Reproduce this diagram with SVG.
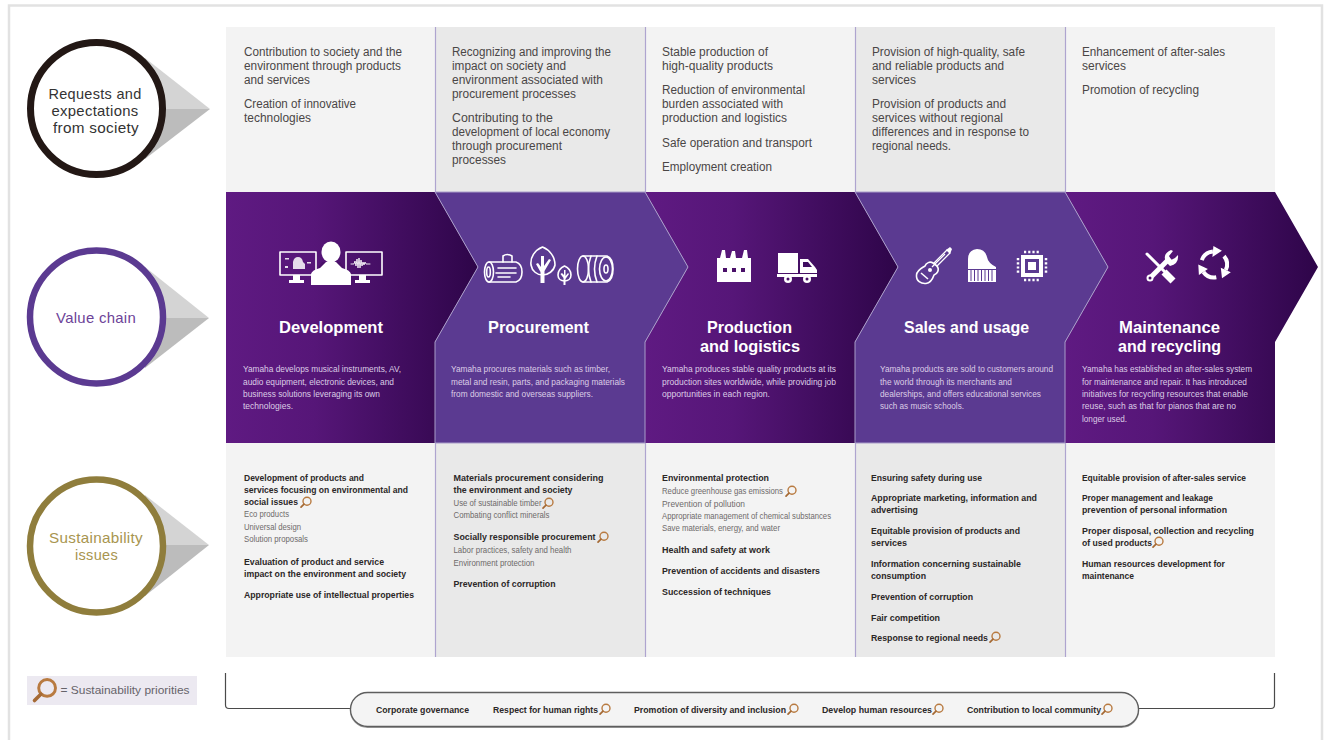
<svg xmlns="http://www.w3.org/2000/svg" width="1325" height="740" viewBox="0 0 1325 740">
<style>
text{font-family:"Liberation Sans",Arial,sans-serif}
.t{font-size:12.5px;fill:#4a4646}
.d{font-size:8.8px;fill:#dccde6}
.h{font-size:16.5px;font-weight:bold;fill:#fff;text-anchor:middle}
.b{font-size:9.6px;font-weight:bold;fill:#2b2727}
.s{font-size:8.6px;fill:#6e6a6a}
.f{font-size:9.2px;font-weight:bold;fill:#2b2727}
.c{font-size:15px;text-anchor:middle;letter-spacing:.3px}
.sep{stroke:#aea4cf;stroke-width:1.2;fill:none}
.v{fill:#5b3a91;stroke:#a99cc9;stroke-width:1}
.l{fill:none;stroke:#fff;stroke-width:1.6;stroke-linecap:round;stroke-linejoin:round}
.w{fill:#fff}
.wu{fill:#d4d4d4}.wd{fill:#bcbcbc}
</style>
<defs>
<linearGradient id="pg"><stop offset="0" stop-color="#5f1a82"/><stop offset=".35" stop-color="#561678"/><stop offset="1" stop-color="#2e0549"/></linearGradient>
<g id="lens"><circle cx="1" cy="-1" r="4" fill="none" stroke="#b87a40" stroke-width="1.400"/><path d="M-2 2L-5 5" stroke="#a56a35" stroke-width="1.700" stroke-linecap="round"/></g>
</defs>
<rect width="1325" height="740" fill="#fff"/>
<rect x="9" y="5.500" width="1313" height="740" fill="none" stroke="#e2e2e2" stroke-width="2.500"/>

<g id="circle-requests">
<path class="wu" d="M145 58L210 109H130Z"/><path class="wd" d="M145 159L210 109H130Z"/>
<circle cx="96.500" cy="108.500" r="66" fill="#fff" stroke="#231815" stroke-width="7"/>
<g class="c" fill="#333"><text x="95" y="98.800" textLength="93" lengthAdjust="spacingAndGlyphs">Requests and</text><text x="95" y="115.800" textLength="87" lengthAdjust="spacingAndGlyphs">expectations</text><text x="96" y="132.800" textLength="86" lengthAdjust="spacingAndGlyphs">from society</text></g>
</g>
<g id="circle-value">
<path class="wu" d="M145 267L209 318H130Z"/><path class="wd" d="M145 368L209 318H130Z"/>
<circle cx="96.500" cy="317" r="66.500" fill="#fff" stroke="#5b3a91" stroke-width="6.500"/>
<text class="c" fill="#6d4398" x="96" y="323" textLength="80" lengthAdjust="spacingAndGlyphs">Value chain</text>
</g>
<g id="circle-sustainability">
<path class="wu" d="M145 495L209 545H130Z"/><path class="wd" d="M145 596L209 545H130Z"/>
<circle cx="96.500" cy="546" r="66.500" fill="#fff" stroke="#8f7d3c" stroke-width="6.500"/>
<g class="c" fill="#a8954f"><text x="96" y="543" textLength="94" lengthAdjust="spacingAndGlyphs">Sustainability</text><text x="96.500" y="560" textLength="43" lengthAdjust="spacingAndGlyphs">issues</text></g>
</g>

<g id="bands">
<rect x="226" y="27" width="209" height="165" fill="#f3f3f3"/><rect x="435" y="27" width="210" height="165" fill="#e9e9e9"/><rect x="645" y="27" width="210" height="165" fill="#f3f3f3"/><rect x="855" y="27" width="210" height="165" fill="#e9e9e9"/><rect x="1065" y="27" width="210" height="165" fill="#f3f3f3"/>
<rect x="226" y="443" width="209" height="214" fill="#f3f3f3"/><rect x="435" y="443" width="210" height="214" fill="#e9e9e9"/><rect x="645" y="443" width="210" height="214" fill="#f3f3f3"/><rect x="855" y="443" width="210" height="214" fill="#e9e9e9"/><rect x="1065" y="443" width="210" height="214" fill="#f3f3f3"/>
<path class="sep" d="M435.500 27V192M645.500 27V192M855.500 27V192M1065.500 27V192M435.500 443V657M645.500 443V657M855.500 443V657M1065.500 443V657"/>
</g>

<g id="requests-text" class="t" transform="translate(0 -.8)">
<text x="244" y="56.500" textLength="158" lengthAdjust="spacingAndGlyphs">Contribution to society and the</text>
<text x="244" y="70.500" textLength="157" lengthAdjust="spacingAndGlyphs">environment through products</text>
<text x="244" y="84.500" textLength="66" lengthAdjust="spacingAndGlyphs">and services</text>
<text x="244" y="109" textLength="112" lengthAdjust="spacingAndGlyphs">Creation of innovative</text>
<text x="244" y="123" textLength="67" lengthAdjust="spacingAndGlyphs">technologies</text>
<text x="452" y="56.500" textLength="159" lengthAdjust="spacingAndGlyphs">Recognizing and improving the</text>
<text x="452" y="70.500" textLength="114" lengthAdjust="spacingAndGlyphs">impact on society and</text>
<text x="452" y="84.500" textLength="151" lengthAdjust="spacingAndGlyphs">environment associated with</text>
<text x="452" y="98.500" textLength="124" lengthAdjust="spacingAndGlyphs">procurement processes</text>
<text x="452" y="123" textLength="101" lengthAdjust="spacingAndGlyphs">Contributing to the</text>
<text x="452" y="137" textLength="158" lengthAdjust="spacingAndGlyphs">development of local economy</text>
<text x="452" y="151" textLength="110" lengthAdjust="spacingAndGlyphs">through procurement</text>
<text x="452" y="165" textLength="54" lengthAdjust="spacingAndGlyphs">processes</text>
<text x="662" y="56.500" textLength="106" lengthAdjust="spacingAndGlyphs">Stable production of</text>
<text x="662" y="70.500" textLength="111" lengthAdjust="spacingAndGlyphs">high-quality products</text>
<text x="662" y="95" textLength="143" lengthAdjust="spacingAndGlyphs">Reduction of environmental</text>
<text x="662" y="109" textLength="121" lengthAdjust="spacingAndGlyphs">burden associated with</text>
<text x="662" y="123" textLength="125" lengthAdjust="spacingAndGlyphs">production and logistics</text>
<text x="662" y="147.500" textLength="150" lengthAdjust="spacingAndGlyphs">Safe operation and transport</text>
<text x="662" y="172" textLength="110" lengthAdjust="spacingAndGlyphs">Employment creation</text>
<text x="872" y="56.500" textLength="153" lengthAdjust="spacingAndGlyphs">Provision of high-quality, safe</text>
<text x="872" y="70.500" textLength="132" lengthAdjust="spacingAndGlyphs">and reliable products and</text>
<text x="872" y="84.500" textLength="44" lengthAdjust="spacingAndGlyphs">services</text>
<text x="872" y="109" textLength="134" lengthAdjust="spacingAndGlyphs">Provision of products and</text>
<text x="872" y="123" textLength="131" lengthAdjust="spacingAndGlyphs">services without regional</text>
<text x="872" y="137" textLength="157" lengthAdjust="spacingAndGlyphs">differences and in response to</text>
<text x="872" y="151" textLength="79" lengthAdjust="spacingAndGlyphs">regional needs.</text>
<text x="1082" y="56.500" textLength="143" lengthAdjust="spacingAndGlyphs">Enhancement of after-sales</text>
<text x="1082" y="70.500" textLength="44" lengthAdjust="spacingAndGlyphs">services</text>
<text x="1082" y="95" textLength="117" lengthAdjust="spacingAndGlyphs">Promotion of recycling</text>
</g>

<g id="node-development">
<polygon fill="url(#pg)" points="226,192 435,192 478,267 435,342 435,443 226,443"/>
<g class="l"><rect x="280" y="252" width="36" height="23"/><rect x="346" y="252" width="36" height="23"/></g>
<path class="w" d="M293 275h7v5h4v3h-15v-3h4zM359 275h7v5h4v3h-15v-3h4z"/>
<path d="M318 268L322 262H340L344 268Z" fill="#4a1069"/>
<ellipse class="w" cx="331" cy="252" rx="9.500" ry="10.500"/>
<path class="w" d="M311 285V274Q312 270 320 268L326 262H336L342 268Q350 270 351 274V285Z"/>
<path class="w" d="M293 269V262Q294 257 298 257Q302 257 303 262L305 264V269ZM285 258h4v1.500h-4zM285 266h3v2h-3zM307 262h4v1.500h-4z" opacity=".85"/>
<path class="l" style="stroke-width:.9" d="M351 264h3l1-3 1 5 1-7 1 9 1-10 1 10 1-8 1 6 1-4 1 3 1-3 1 2h4"/>
<text class="h" x="331" y="333" textLength="104" lengthAdjust="spacingAndGlyphs">Development</text>
<g class="d">
<text x="243" y="372" textLength="158" lengthAdjust="spacingAndGlyphs">Yamaha develops musical instruments, AV,</text>
<text x="243" y="384.500" textLength="151" lengthAdjust="spacingAndGlyphs">audio equipment, electronic devices, and</text>
<text x="243" y="397" textLength="137" lengthAdjust="spacingAndGlyphs">business solutions leveraging its own</text>
<text x="243" y="409" textLength="50" lengthAdjust="spacingAndGlyphs">technologies.</text>
</g>
</g>

<g id="node-production">
<polygon fill="url(#pg)" points="645,192 855,192 898,267 855,342 855,443 645,443 645,342 688,267"/>
<path class="w" d="M717 282V258H720L722 250H725L726 258H730L732 251H735L736 258H742L744 250H747L748 258H751V282Z"/>
<path d="M723 268h4v4h-4zM732 268h4v4h-4zM741 268h4v4h-4z" fill="#4a1069"/>
<path class="w" d="M778 253h20v20h-20zM800 259h8l7 8 2 3v3h-17zM777 274h40v3h-40z"/>
<circle cx="788" cy="279" r="4" fill="#fff"/><circle cx="788" cy="279" r="1.500" fill="#4a1069"/><circle cx="807" cy="279" r="4" fill="#fff"/><circle cx="807" cy="279" r="1.500" fill="#4a1069"/>
<path fill="#3f0d60" d="M803 262h5l4 5h-9z"/>
<text class="h" x="749.500" y="333" textLength="85" lengthAdjust="spacingAndGlyphs">Production</text>
<text class="h" x="750" y="352" textLength="100" lengthAdjust="spacingAndGlyphs">and logistics</text>
<g class="d">
<text x="662" y="372" textLength="174" lengthAdjust="spacingAndGlyphs">Yamaha produces stable quality products at its</text>
<text x="662" y="384.500" textLength="174" lengthAdjust="spacingAndGlyphs">production sites worldwide, while providing job</text>
<text x="662" y="397" textLength="108" lengthAdjust="spacingAndGlyphs">opportunities in each region.</text>
</g>
</g>

<g id="node-maintenance">
<polygon fill="url(#pg)" points="1065,192 1275,192 1318,267 1275,342 1275,443 1065,443 1065,342 1108,267"/>
<path d="M1147 254L1172 279" stroke="#fff" stroke-width="3" stroke-linecap="round"/>
<path d="M1164 272L1173 281" stroke="#fff" stroke-width="7"/>
<path d="M1150 278L1170 258" stroke="#fff" stroke-width="5"/>
<circle cx="1150" cy="278" r="3.500" fill="#fff"/><circle cx="1150" cy="278" r="1.500" fill="#4a1069"/>
<path class="w" d="M1166 262Q1162 254 1171 250L1173 251 1169 256 1171 260 1175 258 1178 255Q1179 264 1170 266Z"/>
<g fill="none" stroke="#fff" stroke-width="4"><path d="M1201.800 260.100A13 13 0 0 1 1212.900 251.500"/><path d="M1224 256.100A13 13 0 0 1 1225.800 270"/><path d="M1216.300 277.300A13 13 0 0 1 1203.400 272"/></g>
<path class="w" d="M1213.400 246L1212.400 257 1221.900 250.700ZM1230.800 272.300L1220.800 267.700 1222 278.200ZM1207.900 268.900L1198.900 275.100 1198.300 264.600Z"/>
<text class="h" x="1169.500" y="333" textLength="101" lengthAdjust="spacingAndGlyphs">Maintenance</text>
<text class="h" x="1169.500" y="352" textLength="103" lengthAdjust="spacingAndGlyphs">and recycling</text>
<g class="d">
<text x="1082" y="372" textLength="170" lengthAdjust="spacingAndGlyphs">Yamaha has established an after-sales system</text>
<text x="1082" y="384.500" textLength="165" lengthAdjust="spacingAndGlyphs">for maintenance and repair. It has introduced</text>
<text x="1082" y="397" textLength="166" lengthAdjust="spacingAndGlyphs">initiatives for recycling resources that enable</text>
<text x="1082" y="409" textLength="154" lengthAdjust="spacingAndGlyphs">reuse, such as that for pianos that are no</text>
<text x="1082" y="421.500" textLength="45" lengthAdjust="spacingAndGlyphs">longer used.</text>
</g>
</g>

<g id="node-procurement">
<polygon class="v" points="435,192 645,192 688,267 645,342 645,443 435,443 435,342 478,267"/>
<g class="l">
<path d="M489 262H516Q522 264 522 272Q522 280 516 282H489"/><ellipse cx="489" cy="272" rx="4.500" ry="10"/><ellipse cx="488.500" cy="272" rx="1.800" ry="5"/>
<path d="M498 268h18M496 273h20M498 277h12M503 262V256Q507 253 512 256V262"/>
<path d="M542.500 247C535 250 530 257 531 265C532 271 537 275 542.500 275C548 275 554 271 555 265C555 257 550 250 542.500 247Z"/>
<path d="M564.500 266C560 268 558 272 558 275C558 279 561 281 564.500 281C568 281 571 279 571 275C571 272 569 268 564.500 266Z"/>
<path d="M583 256H607Q613 258 613 269Q613 280 607 282H583"/><ellipse cx="583" cy="269" rx="5.500" ry="13"/><path d="M591 256Q586 269 591 282M597 256Q592 269 597 282"/><ellipse cx="606" cy="269" rx="6.500" ry="12"/><ellipse cx="606" cy="269" rx="2" ry="4"/>
</g>
<path class="w" d="M540.500 283V272L536 264 538 263 541 267V256H544V266L549 259 551 260 544.500 271V283ZM563.500 285V278L560.500 274 562 273 564 275V270H565.500V276L568 273 569 274 565.500 279V285Z"/>
<text class="h" x="538.500" y="333" textLength="101" lengthAdjust="spacingAndGlyphs">Procurement</text>
<g class="d">
<text x="451" y="372" textLength="159" lengthAdjust="spacingAndGlyphs">Yamaha procures materials such as timber,</text>
<text x="451" y="384.500" textLength="174" lengthAdjust="spacingAndGlyphs">metal and resin, parts, and packaging materials</text>
<text x="451" y="397" textLength="142" lengthAdjust="spacingAndGlyphs">from domestic and overseas suppliers.</text>
</g>
</g>

<g id="node-sales">
<polygon class="v" points="855,192 1065,192 1108,267 1065,342 1065,443 855,443 855,342 898,267"/>
<g class="l"><path d="M934 263L947 250M937 266L950 253" style="stroke-width:1.300"/>
<path d="M933 263C930 261 926 263 925 266C922 268 917 270 916.500 275C916 281 921 284 926 283.500C931 283 933 278 934 275C937 274 940 270 937 266Z"/></g>
<path d="M921 273L928 279" stroke="#fff" stroke-width="1.600"/><circle cx="930" cy="270" r="2" fill="#fff"/>
<path d="M946 250L950 247 952 249 950 254Z" fill="#fff"/>
<path d="M932 267L945 254" stroke="#fff" stroke-width="1.200"/>
<path class="w" d="M968 282V259Q968 250 977 249Q985 249 987 257Q988 263 996 267V282Z"/>
<path d="M971 270V281M974.500 270V281M978 270V281M981.500 270V281M985 270V281M988.500 270V281M992 270V281M968 269.500H996" stroke="#5b3a91" stroke-width="1"/>
<rect x="1021" y="255" width="22" height="22" fill="#fff"/><rect x="1025" y="259" width="14" height="14" fill="#5b3a91"/><rect x="1028" y="262" width="8" height="8" fill="#fff"/>
<path d="M1024 252h16M1024 280h16M1018 258v16M1046 258v16" stroke="#fff" stroke-width="2.500" stroke-dasharray="2.200 2"/>
<text class="h" x="966.500" y="333" textLength="125" lengthAdjust="spacingAndGlyphs">Sales and usage</text>
<g class="d">
<text x="880" y="372" textLength="173" lengthAdjust="spacingAndGlyphs">Yamaha products are sold to customers around</text>
<text x="880" y="384.500" textLength="132" lengthAdjust="spacingAndGlyphs">the world through its merchants and</text>
<text x="880" y="397" textLength="161" lengthAdjust="spacingAndGlyphs">dealerships, and offers educational services</text>
<text x="880" y="409" textLength="84" lengthAdjust="spacingAndGlyphs">such as music schools.</text>
</g>
</g>

<g id="issues-development" transform="translate(0 -.8)">
<text class="b" x="244" y="481.500" textLength="120" lengthAdjust="spacingAndGlyphs">Development of products and</text>
<text class="b" x="244" y="493.500" textLength="164" lengthAdjust="spacingAndGlyphs">services focusing on environmental and</text>
<text class="b" x="244" y="505.500" textLength="54" lengthAdjust="spacingAndGlyphs">social issues</text>
<use href="#lens" x="306" y="503"/>
<text class="s" x="244" y="518" textLength="45" lengthAdjust="spacingAndGlyphs">Eco products</text>
<text class="s" x="244" y="530.500" textLength="57" lengthAdjust="spacingAndGlyphs">Universal design</text>
<text class="s" x="244" y="543" textLength="64" lengthAdjust="spacingAndGlyphs">Solution proposals</text>
<text class="b" x="244" y="565.500" textLength="140" lengthAdjust="spacingAndGlyphs">Evaluation of product and service</text>
<text class="b" x="244" y="577.500" textLength="162" lengthAdjust="spacingAndGlyphs">impact on the environment and society</text>
<text class="b" x="244" y="598.500" textLength="170" lengthAdjust="spacingAndGlyphs">Appropriate use of intellectual properties</text>
</g>
<g id="issues-procurement" transform="translate(0 -.8)">
<text class="b" x="453.500" y="481.500" textLength="150" lengthAdjust="spacingAndGlyphs">Materials procurement considering</text>
<text class="b" x="453.500" y="493.500" textLength="119" lengthAdjust="spacingAndGlyphs">the environment and society</text>
<text class="s" x="453.500" y="507" textLength="88" lengthAdjust="spacingAndGlyphs">Use of sustainable timber</text>
<use href="#lens" x="548" y="504"/>
<text class="s" x="453.500" y="519" textLength="96" lengthAdjust="spacingAndGlyphs">Combating conflict minerals</text>
<text class="b" x="453.500" y="540.500" textLength="142" lengthAdjust="spacingAndGlyphs">Socially responsible procurement</text>
<use href="#lens" x="603" y="538"/>
<text class="s" x="453.500" y="554" textLength="118" lengthAdjust="spacingAndGlyphs">Labor practices, safety and health</text>
<text class="s" x="453.500" y="567" textLength="81" lengthAdjust="spacingAndGlyphs">Environment protection</text>
<text class="b" x="453.500" y="587.500" textLength="102" lengthAdjust="spacingAndGlyphs">Prevention of corruption</text>
</g>
<g id="issues-production" transform="translate(0 -.8)">
<text class="b" x="662" y="481.500" textLength="107" lengthAdjust="spacingAndGlyphs">Environmental protection</text>
<text class="s" x="662" y="495" textLength="121" lengthAdjust="spacingAndGlyphs">Reduce greenhouse gas emissions</text>
<use href="#lens" x="791" y="492"/>
<text class="s" x="662" y="508" textLength="83" lengthAdjust="spacingAndGlyphs">Prevention of pollution</text>
<text class="s" x="662" y="520" textLength="169" lengthAdjust="spacingAndGlyphs">Appropriate management of chemical substances</text>
<text class="s" x="662" y="532" textLength="118" lengthAdjust="spacingAndGlyphs">Save materials, energy, and water</text>
<text class="b" x="662" y="553.500" textLength="108" lengthAdjust="spacingAndGlyphs">Health and safety at work</text>
<text class="b" x="662" y="574.500" textLength="158" lengthAdjust="spacingAndGlyphs">Prevention of accidents and disasters</text>
<text class="b" x="662" y="595.500" textLength="109" lengthAdjust="spacingAndGlyphs">Succession of techniques</text>
</g>
<g id="issues-sales" transform="translate(0 -.8)">
<text class="b" x="871" y="481.500" textLength="111" lengthAdjust="spacingAndGlyphs">Ensuring safety during use</text>
<text class="b" x="871" y="501.500" textLength="166" lengthAdjust="spacingAndGlyphs">Appropriate marketing, information and</text>
<text class="b" x="871" y="513.500" textLength="47" lengthAdjust="spacingAndGlyphs">advertising</text>
<text class="b" x="871" y="534.500" textLength="149" lengthAdjust="spacingAndGlyphs">Equitable provision of products and</text>
<text class="b" x="871" y="546.500" textLength="36" lengthAdjust="spacingAndGlyphs">services</text>
<text class="b" x="871" y="567.500" textLength="150" lengthAdjust="spacingAndGlyphs">Information concerning sustainable</text>
<text class="b" x="871" y="579.500" textLength="55" lengthAdjust="spacingAndGlyphs">consumption</text>
<text class="b" x="871" y="600.500" textLength="102" lengthAdjust="spacingAndGlyphs">Prevention of corruption</text>
<text class="b" x="871" y="621.500" textLength="69" lengthAdjust="spacingAndGlyphs">Fair competition</text>
<text class="b" x="871" y="641.500" textLength="117" lengthAdjust="spacingAndGlyphs">Response to regional needs</text>
<use href="#lens" x="995" y="638"/>
</g>
<g id="issues-maintenance" transform="translate(0 -.8)">
<text class="b" x="1082" y="481.500" textLength="164" lengthAdjust="spacingAndGlyphs">Equitable provision of after-sales service</text>
<text class="b" x="1082" y="501.500" textLength="131" lengthAdjust="spacingAndGlyphs">Proper management and leakage</text>
<text class="b" x="1082" y="513.500" textLength="145" lengthAdjust="spacingAndGlyphs">prevention of personal information</text>
<text class="b" x="1082" y="534.500" textLength="172" lengthAdjust="spacingAndGlyphs">Proper disposal, collection and recycling</text>
<text class="b" x="1082" y="546.500" textLength="70" lengthAdjust="spacingAndGlyphs">of used products</text>
<use href="#lens" x="1158" y="543"/>
<text class="b" x="1082" y="567.500" textLength="143" lengthAdjust="spacingAndGlyphs">Human resources development for</text>
<text class="b" x="1082" y="579.500" textLength="52" lengthAdjust="spacingAndGlyphs">maintenance</text>
</g>

<g id="legend">
<rect x="27" y="676" width="170" height="29" fill="#ece9f1"/>
<use href="#lens" transform="translate(45 690) scale(2.100)"/>
<text x="60.500" y="694" font-size="11.500" fill="#66636a" textLength="129" lengthAdjust="spacingAndGlyphs">= Sustainability priorities</text>
</g>

<g id="connectors" fill="none" stroke="#4a4a4a" stroke-width="1.200">
<path d="M225.500 673V705Q225.500 708.500 229 708.500H350"/>
<path d="M1274.500 673V705Q1274.500 708.500 1271 708.500H1139"/>
</g>

<g id="node-foundation">
<rect x="350.500" y="693.200" width="788" height="34" rx="17" fill="none" stroke="#a0a0a0" stroke-width="1.500"/>
<rect x="350.500" y="692.500" width="788" height="34" rx="17" fill="#f4f4f4" stroke="#5e5e5e" stroke-width="1.300"/>
<g transform="translate(0 -.8)">
<text class="f" x="376" y="713.500" textLength="93" lengthAdjust="spacingAndGlyphs">Corporate governance</text>
<text class="f" x="493" y="713.500" textLength="105" lengthAdjust="spacingAndGlyphs">Respect for human rights</text>
<use href="#lens" x="605" y="710"/>
<text class="f" x="634" y="713.500" textLength="152" lengthAdjust="spacingAndGlyphs">Promotion of diversity and inclusion</text>
<use href="#lens" x="793" y="710"/>
<text class="f" x="822" y="713.500" textLength="110" lengthAdjust="spacingAndGlyphs">Develop human resources</text>
<use href="#lens" x="938" y="710"/>
<text class="f" x="967" y="713.500" textLength="134" lengthAdjust="spacingAndGlyphs">Contribution to local community</text>
<use href="#lens" x="1107" y="710"/>
</g>
</g>
</svg>
